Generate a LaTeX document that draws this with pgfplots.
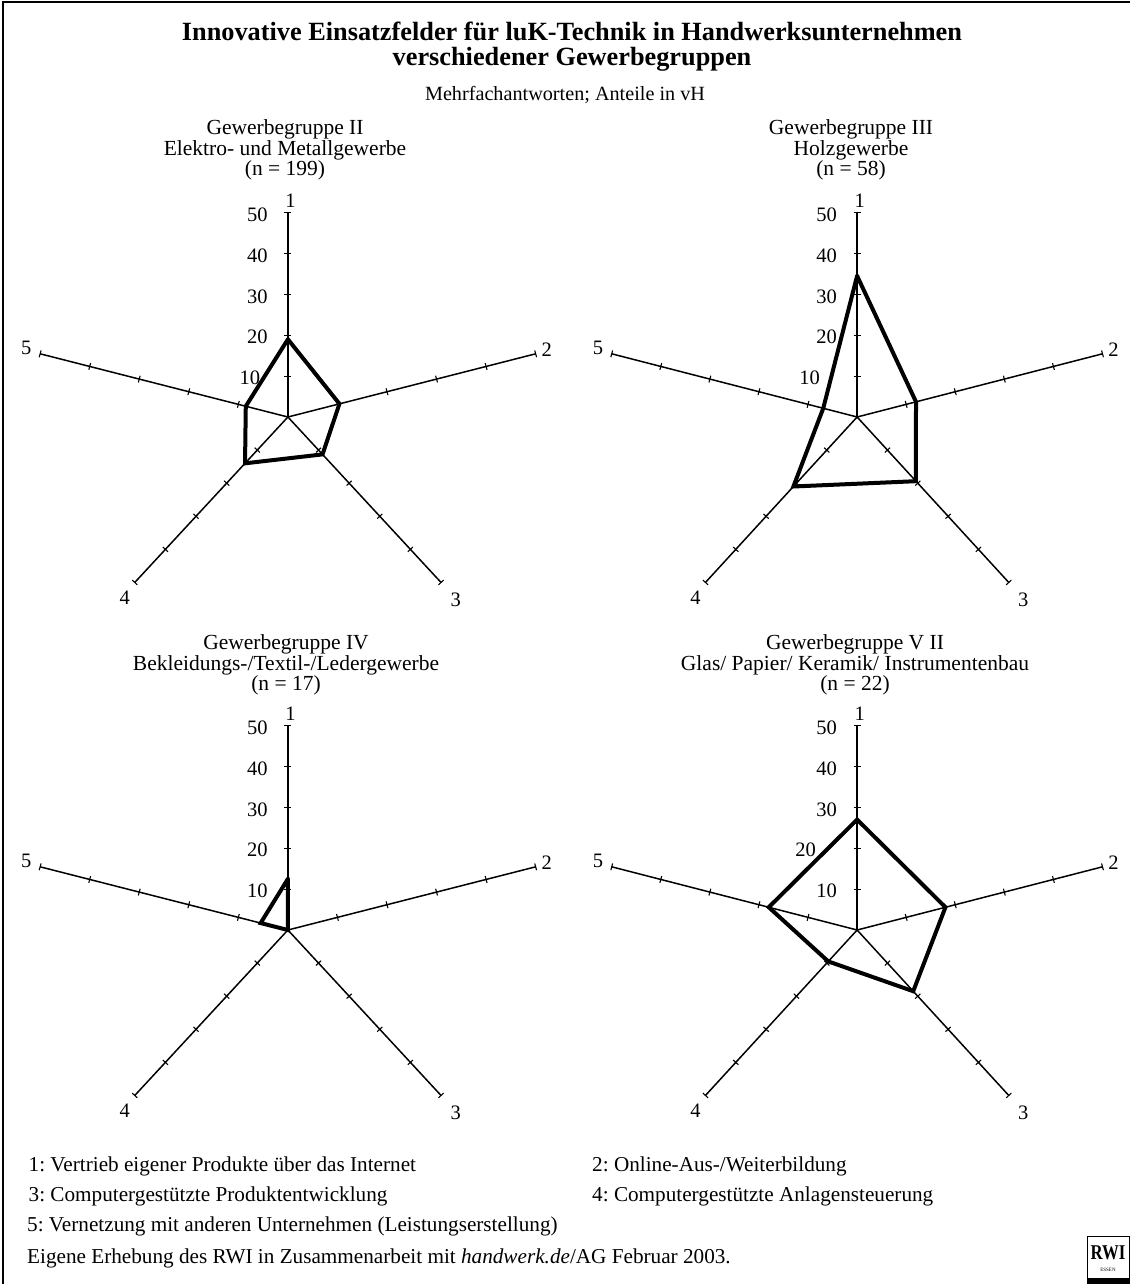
\documentclass[border=0pt]{standalone}
\usepackage{pgfplots}
\usepackage{pgfplotstable}
\pgfplotsset{compat=1.18}
\usepackage{fontspec}
\setmainfont{Liberation Serif}
\frenchspacing

\pgfplotsset{
  table/trf/.style={x expr={\thisrow{v}*sin(\thisrow{a})}, y expr={\thisrow{v}*cos(\thisrow{a})}},
  spk/.style={black, line width=1.5pt, mark=|, mark size=3.5pt, mark indices={2,3,4,5,6}},
  poly/.style={black, line width=4pt, line join=miter, line cap=round, mark=none, sharp plot},
  radar/.style={anchor=center, hide axis, clip=false, xmin=-60, xmax=60, ymin=-60, ymax=60, y=4.09pt},
}

% data: a = angle of spoke (1 = 0 deg, clockwise), v = share in vH
\pgfplotstableread{
a v
0 19
72 10.4
144 11.3
216 14
288 8.5
360 19
}\gA
\pgfplotstableread{
a v
0 34.5
72 12
144 19.4
216 21
288 6.9
360 34.5
}\gB
\pgfplotstableread{
a v
0 12.5
72 0
144 0
216 0
288 5.5
360 12.5
}\gC
\pgfplotstableread{
a v
0 27
72 18
144 18.5
216 9.5
288 18
360 27
}\gD

\newcommand{\radarspokes}[2]{%
  \addplot[spk, mark options={rotate=90, line width=1.1pt}] table[trf, row sep=\\] {a v\\0 0\\0 10\\0 20\\0 30\\0 40\\0 50\\};
  \addplot[spk, mark options={rotate=#1, line width=1.1pt}] table[trf, row sep=\\] {a v\\72 0\\72 10\\72 20\\72 30\\72 40\\72 50\\};
  \addplot[spk, mark options={rotate=-#2, line width=1.1pt}] table[trf, row sep=\\] {a v\\144 0\\144 10\\144 20\\144 30\\144 40\\144 50\\};
  \addplot[spk, mark options={rotate=#2, line width=1.1pt}] table[trf, row sep=\\] {a v\\216 0\\216 10\\216 20\\216 30\\216 40\\216 50\\};
  \addplot[spk, mark options={rotate=-#1, line width=1.1pt}] table[trf, row sep=\\] {a v\\288 0\\288 10\\288 20\\288 30\\288 40\\288 50\\};
  \node[font=\mylbl] at (axis cs:0.5,52.8) {1};
  \node[font=\mylbl] at (axis cs:49.7,16.5) {2};
  \node[font=\mylbl] at (axis cs:32.2,-44.6) {3};
  \node[font=\mylbl] at (axis cs:-31.3,-44.2) {4};
  \node[font=\mylbl] at (axis cs:-50.2,16.8) {5};
}
\newcommand{\ticklab}[2]{\node[font=\mylbl, anchor=east, inner sep=0pt] at ([shift={(#1pt,-2pt)}]axis cs:0,#2) {#2};}
\newcommand{\mylbl}{\fontsize{20.5}{22}\selectfont}
\newcommand{\myhd}{\fontsize{21.5}{22}\selectfont}
\newcommand{\mylg}{\fontsize{21.2}{22}\selectfont}

\begin{document}
\begin{tikzpicture}[x=1pt, y=1pt]
\useasboundingbox (0,0) rectangle (1130,-1284);
\draw[line width=2pt] (3,-1284) -- (3,-2) -- (1130,-2);

\node[anchor=base, font=\bfseries\fontsize{26.3}{26}\selectfont] at (572,-41) {Innovative Einsatzfelder für luK-Technik in Handwerksunternehmen};
\node[anchor=base, font=\bfseries\fontsize{26.3}{26}\selectfont] at (572,-66) {verschiedener Gewerbegruppen};
\node[anchor=base, font=\fontsize{20.2}{22}\selectfont] at (565,-101) {Mehrfachantworten; Anteile in vH};

% headings
\node[anchor=base, font=\myhd] at (285,-134.5) {Gewerbegruppe II};
\node[anchor=base, font=\myhd] at (285,-155.5) {Elektro- und Metallgewerbe};
\node[anchor=base, font=\myhd] at (285,-176) {(n = 199)};
\node[anchor=base, font=\myhd] at (851,-134.5) {Gewerbegruppe III};
\node[anchor=base, font=\myhd] at (851,-155.5) {Holzgewerbe};
\node[anchor=base, font=\myhd] at (851,-176) {(n = 58)};
\node[anchor=base, font=\myhd] at (286,-649.5) {Gewerbegruppe IV};
\node[anchor=base, font=\myhd] at (286,-670) {Bekleidungs-/Textil-/Ledergewerbe};
\node[anchor=base, font=\myhd] at (286,-690.5) {(n = 17)};
\node[anchor=base, font=\myhd] at (855,-649.5) {Gewerbegruppe V II};
\node[anchor=base, font=\myhd] at (855,-670) {Glas/ Papier/ Keramik/ Instrumentenbau};
\node[anchor=base, font=\myhd] at (855,-690.5) {(n = 22)};

% chart 1
\begin{axis}[radar, at={(287.9pt,-417pt)}, x=5.21pt]
\radarspokes{15.1}{47.4}
\addplot[poly] table[trf] {\gA};
\ticklab{-20}{50}\ticklab{-20}{40}\ticklab{-20}{30}\ticklab{-20}{20}\ticklab{-27.5}{10}
\end{axis}
% chart 2
\begin{axis}[radar, at={(857.1pt,-417pt)}, x=5.16pt]
\radarspokes{15.2}{47.7}
\addplot[poly] table[trf] {\gB};
\ticklab{-20}{50}\ticklab{-20}{40}\ticklab{-20}{30}\ticklab{-20}{20}\ticklab{-37}{10}
\end{axis}
% chart 3
\begin{axis}[radar, at={(287.9pt,-930pt)}, x=5.21pt]
\radarspokes{15.1}{47.4}
\addplot[poly] table[trf] {\gC};
\ticklab{-20}{50}\ticklab{-20}{40}\ticklab{-20}{30}\ticklab{-20}{20}\ticklab{-20}{10}
\end{axis}
% chart 4
\begin{axis}[radar, at={(857.1pt,-930pt)}, x=5.16pt]
\radarspokes{15.2}{47.7}
\addplot[poly] table[trf] {\gD};
\ticklab{-20}{50}\ticklab{-20}{40}\ticklab{-20}{30}\ticklab{-41}{20}\ticklab{-20}{10}
\end{axis}

% legend
\node[anchor=base west, font=\mylg, inner sep=0pt] at (28.5,-1171.7) {1: Vertrieb eigener Produkte über das Internet};
\node[anchor=base west, font=\mylg, inner sep=0pt] at (592,-1171.7) {2: Online-Aus-/Weiterbildung};
\node[anchor=base west, font=\mylg, inner sep=0pt] at (28.5,-1201.7) {3: Computergestützte Produktentwicklung};
\node[anchor=base west, font=\mylg, inner sep=0pt] at (592,-1201.7) {4: Computergestützte Anlagensteuerung};
\node[anchor=base west, font=\mylg, inner sep=0pt] at (27,-1231.7) {5: Vernetzung mit anderen Unternehmen (Leistungserstellung)};
\node[anchor=base west, font=\mylg, inner sep=0pt] at (27,-1263.3) {Eigene Erhebung des RWI in Zusammenarbeit mit \textit{handwerk.de}/AG Februar 2003.};

% RWI logo
\draw[line width=0.6pt, fill=white] (1087,-1236) rectangle (1129.5,-1284);
\node[font=\bfseries\fontsize{21}{21}\selectfont, inner sep=0pt, xscale=0.8] at (1108,-1253) {RWI};
\node[font=\fontsize{5}{5}\selectfont, inner sep=0pt] at (1108,-1270) {ESSEN};
\fill[black] (1087,-1278) rectangle (1129.5,-1284);
\end{tikzpicture}
\end{document}
